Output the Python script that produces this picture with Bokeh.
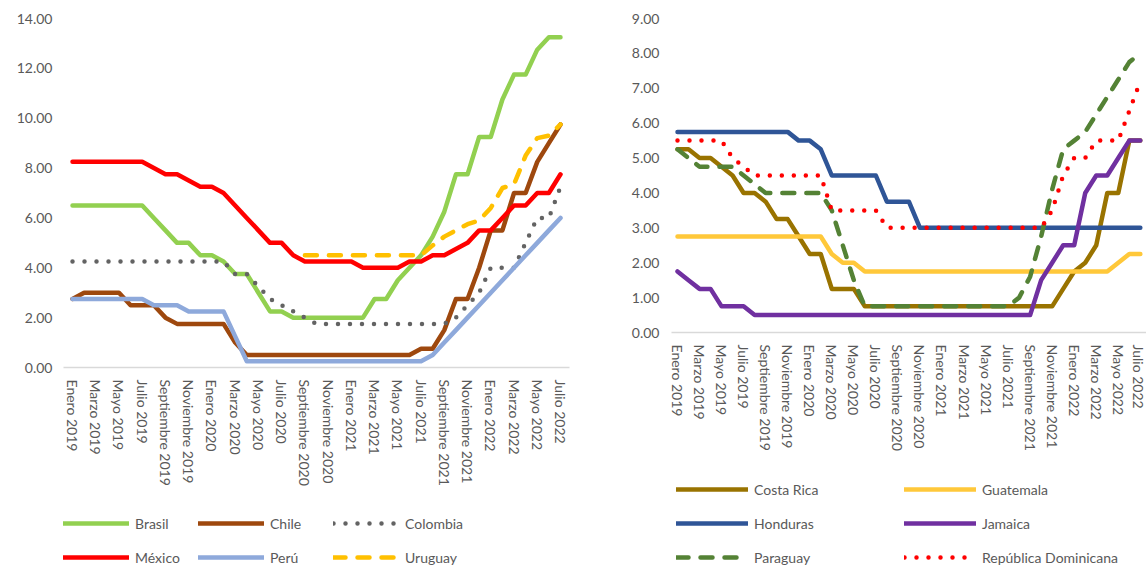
import numpy as np
from bokeh.plotting import figure
from bokeh.models import Legend, LegendItem, FixedTicker, Range1d, PrintfTickFormatter
from bokeh.layouts import row, column
from bokeh.embed import file_html
from bokeh.resources import INLINE

nan = float("nan")

months = [
    "Enero 2019", "Febrero 2019", "Marzo 2019", "Abril 2019", "Mayo 2019", "Junio 2019",
    "Julio 2019", "Agosto 2019", "Septiembre 2019", "Octubre 2019", "Noviembre 2019", "Diciembre 2019",
    "Enero 2020", "Febrero 2020", "Marzo 2020", "Abril 2020", "Mayo 2020", "Junio 2020",
    "Julio 2020", "Agosto 2020", "Septiembre 2020", "Octubre 2020", "Noviembre 2020", "Diciembre 2020",
    "Enero 2021", "Febrero 2021", "Marzo 2021", "Abril 2021", "Mayo 2021", "Junio 2021",
    "Julio 2021", "Agosto 2021", "Septiembre 2021", "Octubre 2021", "Noviembre 2021", "Diciembre 2021",
    "Enero 2022", "Febrero 2022", "Marzo 2022", "Abril 2022", "Mayo 2022", "Junio 2022",
    "Julio 2022",
]
x_idx = list(range(len(months)))
tick_idx = list(range(0, len(months), 2))

# ---- Left panel: South America + Mexico ----
brasil = [6.5, 6.5, 6.5, 6.5, 6.5, 6.5, 6.5, 6.0, 5.5, 5.0, 5.0, 4.5, 4.5, 4.25, 3.75, 3.75,
          3.0, 2.25, 2.25, 2.0, 2.0, 2.0, 2.0, 2.0, 2.0, 2.0, 2.75, 2.75, 3.5, 4.0, 4.5,
          5.25, 6.25, 7.75, 7.75, 9.25, 9.25, 10.75, 11.75, 11.75, 12.75, 13.25, 13.25]
chile = [2.75, 3.0, 3.0, 3.0, 3.0, 2.5, 2.5, 2.5, 2.0, 1.75, 1.75, 1.75, 1.75, 1.75, 1.0, 0.5,
         0.5, 0.5, 0.5, 0.5, 0.5, 0.5, 0.5, 0.5, 0.5, 0.5, 0.5, 0.5, 0.5, 0.5, 0.75,
         0.75, 1.5, 2.75, 2.75, 4.0, 5.5, 5.5, 7.0, 7.0, 8.25, 9.0, 9.75]
colombia = [4.25, 4.25, 4.25, 4.25, 4.25, 4.25, 4.25, 4.25, 4.25, 4.25, 4.25, 4.25, 4.25, 4.25,
            3.75, 3.75, 3.25, 2.75, 2.5, 2.25, 2.0, 1.75, 1.75, 1.75, 1.75, 1.75, 1.75, 1.75,
            1.75, 1.75, 1.75, 1.75, 1.75, 2.0, 2.5, 3.0, 4.0, 4.0, 4.0, 5.0, 6.0, 6.0, 7.25]
mexico = [8.25, 8.25, 8.25, 8.25, 8.25, 8.25, 8.25, 8.0, 7.75, 7.75, 7.5, 7.25, 7.25, 7.0, 6.5,
          6.0, 5.5, 5.0, 5.0, 4.5, 4.25, 4.25, 4.25, 4.25, 4.25, 4.0, 4.0, 4.0, 4.0, 4.25,
          4.25, 4.5, 4.5, 4.75, 5.0, 5.5, 5.5, 6.0, 6.5, 6.5, 7.0, 7.0, 7.75]
peru = [2.75, 2.75, 2.75, 2.75, 2.75, 2.75, 2.75, 2.5, 2.5, 2.5, 2.25, 2.25, 2.25, 2.25, 1.25,
        0.25, 0.25, 0.25, 0.25, 0.25, 0.25, 0.25, 0.25, 0.25, 0.25, 0.25, 0.25, 0.25, 0.25,
        0.25, 0.25, 0.5, 1.0, 1.5, 2.0, 2.5, 3.0, 3.5, 4.0, 4.5, 5.0, 5.5, 6.0]
uruguay = [nan] * 20 + [4.5, 4.5, 4.5, 4.5, 4.5, 4.5, 4.5, 4.5, 4.5, 4.5, 4.5,
                        4.9, 5.25, 5.5, 5.75, 5.9, 6.4, 7.2, 7.35, 8.5, 9.2, 9.3, 9.75]

# ---- Right panel: Central America + Caribbean + Paraguay ----
costa_rica = [5.25, 5.25, 5.0, 5.0, 4.75, 4.5, 4.0, 4.0, 3.75, 3.25, 3.25, 2.75, 2.25, 2.25,
              1.25, 1.25, 1.25] + [0.75] * 18 + [1.25, 1.75, 2.0, 2.5, 4.0, 4.0, 5.5, 5.5]
guatemala = [2.75] * 14 + [2.25, 2.0, 2.0] + [1.75] * 23 + [2.0, 2.25, 2.25]
honduras = [5.75] * 11 + [5.5, 5.5, 5.25, 4.5, 4.5, 4.5, 4.5, 4.5, 3.75, 3.75, 3.75] + [3.0] * 21
jamaica = [1.75, 1.5, 1.25, 1.25, 0.75, 0.75, 0.75] + [0.5] * 26 + \
          [1.5, 2.0, 2.5, 2.5, 4.0, 4.5, 4.5, 5.0, 5.5, 5.5]
paraguay = [5.25, 5.0, 4.75, 4.75, 4.75, 4.75, 4.5, 4.25, 4.0, 4.0, 4.0, 4.0, 4.0, 4.0, 3.5,
            2.5, 1.5] + [0.75] * 14 + [1.0, 1.6, 2.75, 4.1, 5.25, 5.5, 5.75, 6.25, 6.75,
                                       7.25, 7.75, 8.0]
rep_dom = [5.5, 5.5, 5.5, 5.5, 5.5, 5.0, 4.75] + [4.5] * 7 + [3.5] * 5 + [3.0] * 15 + \
          [3.5, 4.5, 5.0, 5.0, 5.5, 5.5, 5.5, 6.35, 7.2]

left_series = [("Brasil", brasil, "#92D050", "solid"),
               ("Chile", chile, "#9E480E", "solid"),
               ("Colombia", colombia, "#636363", "0 12"),
               ("México", mexico, "#FF0000", "solid"),
               ("Perú", peru, "#8EA9DB", "solid"),
               ("Uruguay", uruguay, "#FFC000", "12 12")]
right_series = [("Costa Rica", costa_rica, "#997300", "solid"),
                ("Guatemala", guatemala, "#FFC83A", "solid"),
                ("Honduras", honduras, "#2F5597", "solid"),
                ("Jamaica", jamaica, "#7030A0", "solid"),
                ("Paraguay", paraguay, "#548235", "12 12"),
                ("República Dominicana", rep_dom, "#FF0000", "0 12")]

FONT = "Lato"
TXT = "#595959"


def style(p, y_ticks, ystandoff):
    p.xgrid.visible = False
    p.ygrid.visible = False
    p.outline_line_color = None
    ya = p.yaxis[0]
    ya.ticker = FixedTicker(ticks=y_ticks)
    ya.formatter = PrintfTickFormatter(format="%.2f")
    ya.axis_line_color = None
    ya.major_tick_line_color = None
    ya.minor_tick_line_color = None
    ya.major_tick_out = 0
    ya.major_tick_in = 0
    ya.minor_tick_out = 0
    ya.major_label_text_font = FONT
    ya.major_label_text_font_size = "14px"
    ya.major_label_text_color = TXT
    ya.major_label_standoff = ystandoff
    xa = p.xaxis[0]
    xa.ticker = FixedTicker(ticks=tick_idx)
    xa.major_label_overrides = {i: months[i] for i in tick_idx}
    xa.major_label_orientation = -np.pi / 2
    xa.axis_line_color = "#D9D9D9"
    xa.axis_line_width = 1.5
    xa.major_tick_line_color = None
    xa.minor_tick_line_color = None
    xa.major_tick_out = 0
    xa.major_tick_in = 0
    xa.minor_tick_out = 0
    xa.major_label_text_font = FONT
    xa.major_label_text_font_size = "14px"
    xa.major_label_text_color = TXT
    xa.major_label_standoff = 12


def add_line(p, y, color, dash):
    return p.line(x_idx, y, line_color=color, line_width=4.5, line_dash=dash,
                  line_cap="round", line_join="round")


def legend_figure(series, width, height, ncols, glyph_w, label_w, loc):
    # a figure holding only the legend; its ranges keep the series lines out of view
    lf = figure(width=width, height=height, x_range=Range1d(1000, 1001),
                y_range=Range1d(1000, 1001), x_axis_location=None, y_axis_location=None,
                output_backend="svg", toolbar_location=None,
                min_border_left=0, min_border_right=0, min_border_top=0, min_border_bottom=0)
    lf.outline_line_color = None
    lf.grid.visible = False
    items = []
    for name, ys, color, dash in series:
        r = add_line(lf, ys, color, dash)
        items.append(LegendItem(label=name, renderers=[r]))
    leg = Legend(items=items, ncols=ncols, orientation="horizontal", location=loc,
                 glyph_width=glyph_w, glyph_height=18, label_height=18, label_width=label_w,
                 label_standoff=6, spacing=16, padding=0, margin=0,
                 label_text_font=FONT, label_text_font_size="14px", label_text_color=TXT,
                 border_line_color=None, background_fill_alpha=0)
    lf.add_layout(leg, "center")
    return lf


# left chart
p1 = figure(frame_width=506, frame_height=349, x_range=Range1d(-0.775, 42.775),
            y_range=Range1d(0, 14), output_backend="svg", toolbar_location=None,
            min_border_left=63, min_border_right=59, min_border_top=18, min_border_bottom=136)
style(p1, list(range(0, 15, 2)), 11)
for name, ys, color, dash in left_series:
    add_line(p1, ys, color, dash)
l1 = legend_figure(left_series, 628, 64, 3, 66, 47, (0, 1))

# right chart
p2 = figure(frame_width=475, frame_height=314, x_range=Range1d(-0.544, 42.56),
            y_range=Range1d(0, 9), output_backend="svg", toolbar_location=None,
            min_border_left=42, min_border_right=0, min_border_top=18, min_border_bottom=143)
style(p2, list(range(0, 10)), 12)
for name, ys, color, dash in right_series:
    add_line(p2, ys, color, dash)
l2 = legend_figure(right_series, 517, 92, 2, 72, 134, (5, 1))

layout = row(column(p1, l1), column(p2, l2))
open("out.html", "w").write(file_html(layout, INLINE))
